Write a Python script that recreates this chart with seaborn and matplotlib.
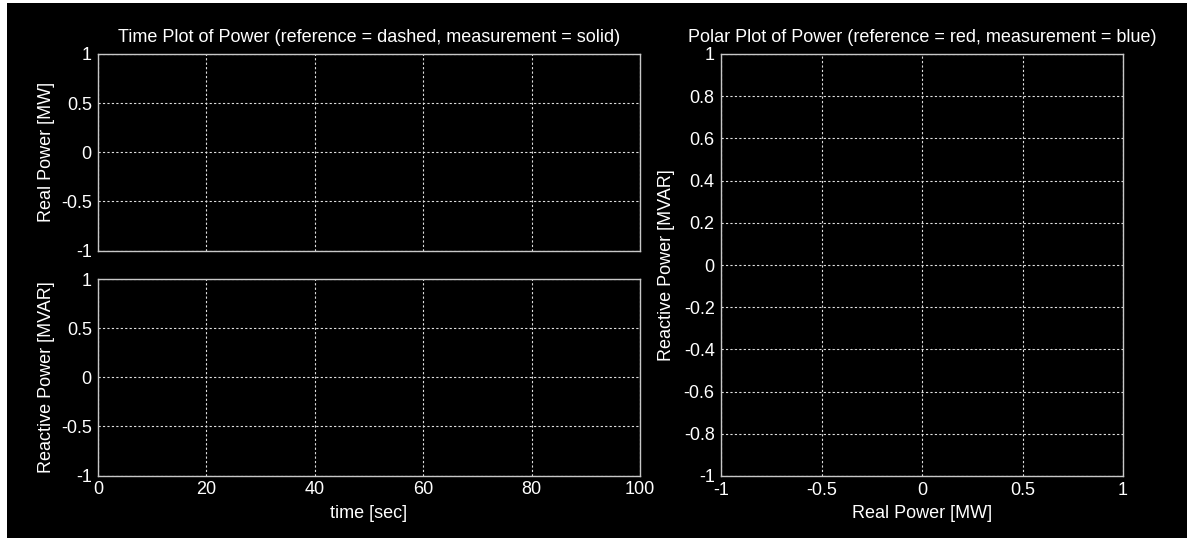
import matplotlib
matplotlib.use("Agg")
import matplotlib.pyplot as plt
from matplotlib.patches import Rectangle
import seaborn as sns
import pandas as pd

# Axis ranges and tick values for the three panels
time_ticks = [0, 20, 40, 60, 80, 100]
power_ticks = [-1, -0.5, 0, 0.5, 1]
polar_x_ticks = [-1, -0.5, 0, 0.5, 1]
polar_y_ticks = [-1, -0.8, -0.6, -0.4, -0.2, 0, 0.2, 0.4, 0.6, 0.8, 1]

# Signals (no samples logged yet)
time_s = []
real_power = []
reactive_power = []

titles = ["Time Plot of Power (reference = dashed, measurement = solid)",
          "Polar Plot of Power (reference = red, measurement = blue)"]

sns.set_theme(style="dark", rc={
    "figure.facecolor": "black",
    "axes.facecolor": "black",
    "axes.edgecolor": "#c8c8c8",
    "axes.linewidth": 1.0,
    "grid.color": "#e0e0e0",
    "grid.linestyle": (0, (2, 2)),
    "grid.linewidth": 0.8,
    "axes.grid": True,
    "text.color": "white",
    "axes.labelcolor": "white",
    "xtick.color": "white",
    "ytick.color": "white",
    "xtick.major.size": 0,
    "ytick.major.size": 0,
})
plt.rcParams["font.family"] = ["Liberation Sans", "DejaVu Sans"]
FS = 13
plt.rcParams["font.size"] = FS

W, H = 1187, 538
fig = plt.figure(figsize=(W / 100, H / 100), dpi=100)

ax_p = fig.add_axes([98 / W, 1 - 250.5 / H, (640 - 98) / W, (250.5 - 54) / H])
ax_q = fig.add_axes([98 / W, 1 - 475.5 / H, (640 - 98) / W, (475.5 - 279) / H])
ax_r = fig.add_axes([721 / W, 1 - 476 / H, (1123 - 721) / W, (476 - 54) / H])

df = pd.DataFrame({"t": time_s, "p": real_power, "q": reactive_power})
sns.lineplot(data=df, x="t", y="p", ax=ax_p, color="tab:blue")
sns.lineplot(data=df, x="t", y="q", ax=ax_q, color="tab:blue")
sns.lineplot(data=df, x="p", y="q", ax=ax_r, color="tab:blue", sort=False)

for ax in (ax_p, ax_q):
    ax.set_xlim(time_ticks[0], time_ticks[-1])
    ax.set_ylim(power_ticks[0], power_ticks[-1])
    ax.set_xticks(time_ticks)
    ax.set_yticks(power_ticks)
    ax.set_yticklabels([f"{v:g}" for v in power_ticks], fontsize=FS)

ax_p.set_xticklabels([])
ax_q.set_xticklabels([f"{v:g}" for v in time_ticks], fontsize=FS)

ax_r.set_xlim(polar_x_ticks[0], polar_x_ticks[-1])
ax_r.set_ylim(polar_y_ticks[0], polar_y_ticks[-1])
ax_r.set_xticks(polar_x_ticks)
ax_r.set_yticks(polar_y_ticks)
ax_r.set_xticklabels([f"{v:g}" for v in polar_x_ticks], fontsize=FS)
ax_r.set_yticklabels([f"{v:g}" for v in polar_y_ticks], fontsize=FS)

for ax in (ax_p, ax_q, ax_r):
    ax.tick_params(axis="y", pad=4.5)
    ax.tick_params(axis="x", pad=4)
    ax.grid(True, which="major")
    for sp in ax.spines.values():
        sp.set_visible(True)
        sp.set_color("#c8c8c8")

ax_p.set_title(titles[0], fontsize=FS, color="white", pad=9)
ax_r.set_title(titles[1], fontsize=FS, color="white", pad=9)
ax_p.set_xlabel("")
ax_p.set_ylabel("Real Power [MW]", fontsize=FS, labelpad=4)
ax_q.set_ylabel("Reactive Power [MVAR]", fontsize=FS, labelpad=4)
ax_q.set_xlabel("time [sec]", fontsize=FS, labelpad=5)
ax_r.set_xlabel("Real Power [MW]", fontsize=FS, labelpad=5)
ax_r.set_ylabel("Reactive Power [MVAR]", fontsize=FS, labelpad=6)

# White window frame strip on the left and top edges
fig.patches.append(Rectangle((0, 0), 7 / W, 1, transform=fig.transFigure,
                             facecolor="white", edgecolor="none", zorder=10))
fig.patches.append(Rectangle((0, 1 - 3 / H), 1, 3 / H, transform=fig.transFigure,
                             facecolor="white", edgecolor="none", zorder=10))

fig.savefig("out.png", dpi=100, facecolor="black")
